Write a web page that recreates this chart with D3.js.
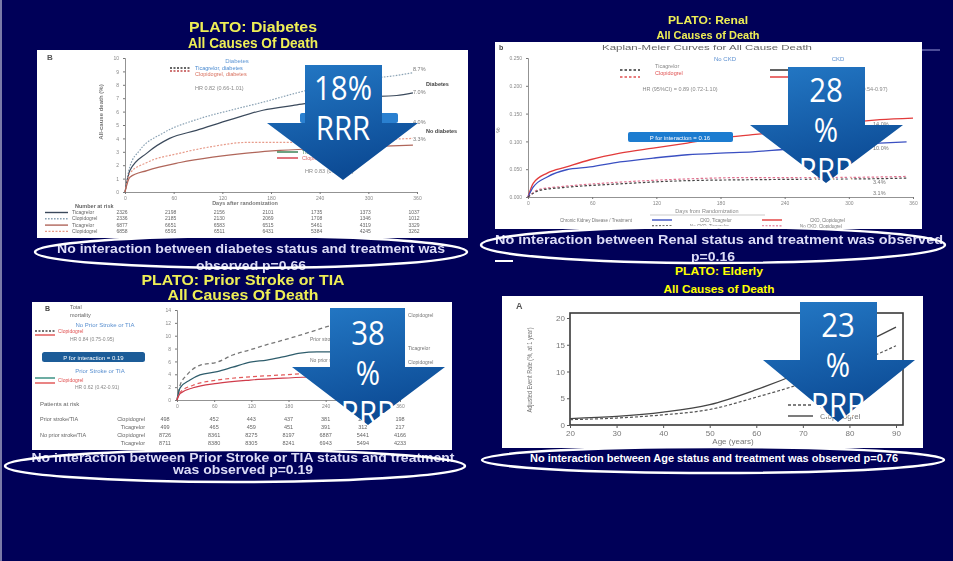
<!DOCTYPE html>
<html>
<head>
<meta charset="utf-8">
<script src="https://cdn.jsdelivr.net/npm/d3@7"></script>
<style>
    html, body { margin: 0; padding: 0; background: #000058; }
    svg { display: block; }
</style>
</head>
<body>
<svg id="slide" width="953" height="561"></svg>
<script>
// ---------- data ----------
const kmDays = [0, 60, 120, 180, 240, 300, 360];
const rrrValues = [18, 28, 38, 23];

// PLATO diabetes, all-cause death (%), [day, value]
const dmClopidogrel = [[0, 0], [6, 1.9], [18, 3.1], [47, 4.4], [88, 5.4], [130, 6.1], [170, 6.7], [212, 7.4], [253, 8.0], [293, 8.4], [335, 8.7], [355, 8.9]];
const dmTicagrelor = [[0, 0], [6, 1.6], [27, 2.9], [55, 4.0], [88, 4.6], [130, 5.4], [170, 6.1], [212, 6.5], [253, 6.9], [293, 7.1], [335, 7.2], [355, 7.4]];
const noDmClopidogrel = [[0, 0], [6, 1.4], [27, 2.2], [68, 2.9], [108, 3.4], [150, 3.7], [191, 3.7], [260, 3.8], [355, 4.0]];
const noDmTicagrelor = [[0, 0], [6, 1.1], [27, 1.6], [68, 2.2], [108, 2.6], [150, 2.9], [191, 3.1], [260, 3.3], [355, 3.5]];
const dmEndLabels = ["8.7%", "7.0%", "4.0%", "3.3%"];
const dmRiskRows = [
    ["Ticagrelor", [2326, 2198, 2156, 2101, 1735, 1373, 1037]],
    ["Clopidogrel", [2336, 2185, 2130, 2069, 1708, 1346, 1012]],
    ["Ticagrelor", [6877, 6651, 6583, 6515, 5461, 4319, 3329]],
    ["Clopidogrel", [6858, 6595, 6511, 6431, 5384, 4245, 3262]],
];

// PLATO renal, all-cause death (%)
const ckdClopidogrel = [[0, 0], [5, 2.5], [18, 4.3], [36, 5.4], [58, 6.7], [86, 7.9], [117, 8.8], [149, 9.7], [180, 10.6], [210, 11.2], [236, 11.7], [267, 12.4], [298, 13.3], [329, 13.9], [360, 14.2]];
const ckdTicagrelor = [[0, 0], [5, 1.8], [18, 3.6], [36, 4.9], [58, 5.4], [86, 6.3], [117, 7.0], [149, 7.6], [180, 7.9], [210, 8.1], [236, 8.5], [267, 9.0], [298, 9.4], [329, 9.7], [354, 9.9]];
const noCkdClopidogrel = [[0, 0], [11, 1.4], [33, 1.9], [80, 2.6], [142, 3.2], [205, 3.5], [267, 3.5], [329, 3.6], [354, 3.7]];
const noCkdTicagrelor = [[0, 0], [11, 1.2], [33, 1.7], [80, 2.3], [142, 2.9], [205, 3.1], [267, 3.2], [329, 3.3], [354, 3.4]];
const ckdEndLabels = ["14.0%", "10.0%", "3.4%", "3.1%"];

// PLATO prior stroke / TIA, total mortality (%)
const priorClopidogrel = [[0, 0], [5, 2.3], [16, 3.9], [37, 5.4], [65, 5.9], [90, 7.0], [118, 7.8], [145, 8.6], [171, 9.3], [199, 10.1], [226, 10.9], [242, 11.4], [290, 12.0], [360, 12.5]];
const priorTicagrelor = [[0, 0], [5, 1.9], [21, 3.1], [37, 3.9], [65, 4.4], [90, 5.1], [118, 5.9], [145, 6.2], [171, 6.7], [199, 7.3], [226, 7.5], [253, 7.5], [300, 7.6], [360, 7.8]];
const noPriorClopidogrel = [[0, 0], [5, 1.2], [26, 2.3], [65, 3.1], [118, 3.6], [171, 3.9], [226, 4.2], [300, 4.4], [360, 4.6]];
const noPriorTicagrelor = [[0, 0], [5, 1.0], [26, 1.9], [65, 2.6], [118, 3.1], [171, 3.4], [226, 3.6], [300, 3.8], [360, 4.0]];
const strokeRiskRows = [
    ["Prior stroke/TIA", "Clopidogrel", [498, 452, 443, 437, 381, 299, 198]],
    ["", "Ticagrelor", [499, 465, 459, 451, 391, 312, 217]],
    ["No prior stroke/TIA", "Clopidogrel", [8726, 8361, 8275, 8197, 6887, 5441, 4166]],
    ["", "Ticagrelor", [8711, 8380, 8305, 8241, 6943, 5494, 4233]],
];

// PLATO elderly, adjusted event rate (%, at 1 year) by age
const ages = [20, 30, 40, 50, 60, 70, 80, 90];
const clopidogrelRate = [1.2, 1.6, 2.4, 3.8, 6.6, 10.0, 14.0, 18.3];
const ticagrelorRate = [1.0, 1.3, 1.9, 2.9, 5.2, 7.8, 11.0, 14.8];

// ---------- helpers ----------
const svg = d3.select("#slide");
const defs = svg.append("defs");

const grad = defs.append("linearGradient").attr("id", "arrowFill")
    .attr("x1", 0).attr("y1", 0).attr("x2", 0.3).attr("y2", 1);
grad.append("stop").attr("offset", "0%").attr("stop-color", "#2479c6");
grad.append("stop").attr("offset", "100%").attr("stop-color", "#0c4b95");

defs.append("filter").attr("id", "soft").append("feGaussianBlur").attr("stdDeviation", 0.55);
defs.append("filter").attr("id", "softer").append("feGaussianBlur").attr("stdDeviation", 0.3);

const SANS = "'Liberation Sans', Arial, sans-serif";

function addText(g, t, x, y, opt = {}) {
    const el = g.append("text")
        .attr("x", x).attr("y", y).text(t)
        .attr("font-family", opt.family || SANS)
        .attr("font-size", opt.size || 5.5)
        .attr("font-weight", opt.weight || "normal")
        .attr("fill", opt.fill || "#888")
        .attr("text-anchor", opt.anchor || "start");
    if (opt.len) el.attr("textLength", opt.len).attr("lengthAdjust", "spacingAndGlyphs");
    if (opt.rotate) el.attr("transform", `rotate(${opt.rotate},${x},${y})`);
    return el;
}

function styleAxis(sel) {
    sel.select(".domain").attr("stroke", "#777").attr("stroke-width", 0.8);
    sel.selectAll(".tick line").attr("stroke", "#777");
    sel.selectAll(".tick text").attr("fill", "#888").attr("font-size", 5).attr("font-family", SANS);
}

function sample(g, x0, x1, y, s) {
    g.append("line").attr("x1", x0).attr("x2", x1).attr("y1", y).attr("y2", y)
        .attr("stroke", s.color).attr("stroke-width", 1.4)
        .attr("stroke-dasharray", s.dash || null);
}

function kmChart(g, o) {
    const x = d3.scaleLinear().domain([0, 360]).range([o.x0, o.x1]);
    const y = d3.scaleLinear().domain([0, o.yMax]).range([o.y0, o.y1]);

    g.append("g").attr("transform", `translate(0,${o.y0})`)
        .call(d3.axisBottom(x).tickValues(kmDays).tickSize(2).tickPadding(2))
        .call(styleAxis);
    g.append("g").attr("transform", `translate(${o.x0},0)`)
        .call(d3.axisLeft(y).tickValues(o.yTicks).tickSize(2).tickPadding(4).tickFormat(o.yFmt || d3.format("d")))
        .call(styleAxis);

    const line = d3.line().x(d => x(d[0])).y(d => y(d[1])).curve(d3.curveMonotoneX);
    o.series.forEach(s => {
        g.append("path").datum(s.data)
            .attr("d", line)
            .attr("fill", "none")
            .attr("stroke", s.color)
            .attr("stroke-width", s.width || 1.2)
            .attr("stroke-dasharray", s.dash || null);
    });
    return { x, y };
}

function titles(g, lines, cx, opt) {
    lines.forEach(l => {
        addText(g, l.text, cx, l.y, {
            size: opt.size, weight: "bold", fill: opt.fill, anchor: "middle", len: l.len,
        });
    });
}

function ovalNote(g, e, lines, opt) {
    lines.forEach(l => addText(g, l.text, l.cx || e.cx, l.y, {
        size: opt.size, weight: "bold", fill: opt.fill, anchor: "middle", len: l.len,
    }));
}

function drawOval(e) {
    svg.append("ellipse")
        .attr("cx", e.cx).attr("cy", e.cy).attr("rx", e.rx).attr("ry", e.ry)
        .attr("fill", "none").attr("stroke", "#ffffff").attr("stroke-width", 2.4);
}

function drawArrow(a, rrr) {
    const p = d3.path();
    p.moveTo(a.rx0, a.top);
    p.lineTo(a.rx1, a.top);
    p.lineTo(a.rx1, a.shoulder);
    p.lineTo(a.tx1, a.shoulder);
    p.lineTo(a.tipX, a.tip);
    p.lineTo(a.tx0, a.shoulder);
    p.lineTo(a.rx0, a.shoulder);
    p.closePath();
    svg.append("path").attr("d", p.toString()).attr("fill", "url(#arrowFill)");
    const lines = a.split ? [`${rrr}`, "%", "RRR"] : [`${rrr}%`, "RRR"];
    lines.forEach((t, i) => {
        const el = addText(svg, t, a.tipX, a.base + i * 40, {
            size: 32, fill: "#ffffff", anchor: "middle", family: "'Open Sans', 'Noto Sans', sans-serif",
        });
        // the slide font is a little narrower than Open Sans
        const w = el.node().getComputedTextLength();
        el.attr("textLength", w * 0.92).attr("lengthAdjust", "spacingAndGlyphs");
    });
}

// ---------- background ----------
svg.append("rect").attr("width", 953).attr("height", 561).attr("fill", "#000058");
svg.append("rect").attr("x", 0).attr("y", 0).attr("width", 2).attr("height", 561).attr("fill", "#7a7aa8");

// ---------- panel 1: diabetes ----------
const p1 = svg.append("g").attr("filter", "url(#soft)");
titles(p1, [
    { text: "PLATO: Diabetes", y: 32, len: 128 },
    { text: "All Causes Of Death", y: 48, len: 130 },
], 253, { size: 14, fill: "#eeee55" });
p1.append("rect").attr("x", 37).attr("y", 50).attr("width", 431).attr("height", 188).attr("fill", "#ffffff");
addText(p1, "B", 47, 60, { size: 8, weight: "bold", fill: "#555" });
addText(p1, "All-cause death (%)", 103, 112, { size: 6, weight: "bold", fill: "#777", anchor: "middle", rotate: -90 });

const dmSeries = [
    { data: dmClopidogrel, color: "#8aa2b4", dash: "1.6,1.4" },
    { data: dmTicagrelor, color: "#3b4a5c" },
    { data: noDmClopidogrel, color: "#e79b8a", dash: "2,1.5" },
    { data: noDmTicagrelor, color: "#b0665a" },
];
const dm = kmChart(p1, {
    x0: 125, x1: 417, y0: 192, y1: 58, yMax: 10,
    yTicks: d3.range(0, 11), series: dmSeries,
});
addText(p1, "Days after randomization", 245, 205, { size: 5.5, weight: "bold", fill: "#777", anchor: "middle" });

// legend
addText(p1, "Diabetes", 237, 63, { size: 6, fill: "#5e96d4", anchor: "middle" });
sample(p1, 170, 190, 68, { color: "#333", dash: "2,1.5" });
sample(p1, 170, 190, 71, { color: "#c04848", dash: "2,1.5" });
addText(p1, "Ticagrelor, diabetes", 195, 70, { size: 5.5, fill: "#4a8ad0" });
addText(p1, "Clopidogrel, diabetes", 195, 76, { size: 5.5, fill: "#d8705e" });
addText(p1, "HR 0.82 (0.66-1.01)", 195, 90, { size: 5.5, fill: "#888" });

// interaction box and no-diabetes legend
p1.append("rect").attr("x", 300).attr("y", 113).attr("width", 98).attr("height", 10).attr("rx", 2).attr("fill", "#2a80d0");
addText(p1, "P for interaction = 0.66", 349, 120.5, { size: 6, fill: "#fff", anchor: "middle" });
sample(p1, 277, 298, 152, { color: "#2e7a4c" });
sample(p1, 277, 298, 158, { color: "#d23a46" });
addText(p1, "Ticagrelor, no diabetes", 302, 154, { size: 5.5, fill: "#4a8a5a" });
addText(p1, "Clopidogrel, no diabetes", 302, 160, { size: 5.5, fill: "#d86a6a" });
addText(p1, "HR 0.83 (0.69-1.00)", 305, 173, { size: 5.5, fill: "#888" });

// end-of-curve labels
const dmLabelDy = [-2, 1, -14, -4];
dmSeries.forEach((s, i) => {
    const last = s.data[s.data.length - 1];
    addText(p1, dmEndLabels[i], dm.x(360) - 4, dm.y(last[1]) + dmLabelDy[i], { size: 5.5, fill: "#777" });
});
addText(p1, "Diabetes", 426, 86, { size: 5.5, weight: "bold", fill: "#444" });
addText(p1, "No diabetes", 426, 133, { size: 5.5, weight: "bold", fill: "#444" });

// number at risk
addText(p1, "Number at risk", 75, 208, { size: 5.5, weight: "bold", fill: "#666" });
dmRiskRows.forEach((r, i) => {
    const yy = 214 + i * 6.3;
    sample(p1, 45, 68, yy - 1.5, dmSeries[[1, 0, 3, 2][i]]);
    addText(p1, r[0], 72, yy, { size: 5, fill: "#666" });
    r[1].forEach((n, j) => addText(p1, n, dm.x(kmDays[j]) - 3, yy, { size: 5, fill: "#666", anchor: "middle" }));
});

ovalNote(p1, { cx: 251 }, [
    { text: "No interaction between diabetes status and treatment was", y: 253, len: 388 },
    { text: "observed p=0.66", y: 270, len: 110 },
], { size: 13, fill: "#dcdcf6" });

// ---------- panel 2: renal ----------
const p2 = svg.append("g").attr("filter", "url(#soft)");
titles(p2, [
    { text: "PLATO: Renal", y: 24, len: 80 },
    { text: "All Causes of Death", y: 39, len: 103 },
], 708, { size: 11, fill: "#eeee55" });
p2.append("rect").attr("x", 495).attr("y", 42).attr("width", 427).attr("height", 187).attr("fill", "#ffffff");
p2.append("line").attr("x1", 922).attr("x2", 940).attr("y1", 50).attr("y2", 50).attr("stroke", "#9a9ad8").attr("stroke-width", 1);
addText(p2, "b", 499, 50, { size: 7, weight: "bold", fill: "#444" });
addText(p2, "Kaplan-Meier Curves for All Cause Death", 707, 50, { size: 6.5, fill: "#666", anchor: "middle", len: 210 });
addText(p2, "%", 500, 130, { size: 6, fill: "#777", anchor: "middle", rotate: -90 });

const ckdSeries = [
    { data: ckdClopidogrel, color: "#e23a3a", width: 1.3 },
    { data: ckdTicagrelor, color: "#3a50c2", width: 1.3 },
    { data: noCkdClopidogrel, color: "#e0708e", dash: "2.5,2" },
    { data: noCkdTicagrelor, color: "#444", dash: "2.5,2" },
];
const ckd = kmChart(p2, {
    x0: 528, x1: 913, y0: 197, y1: 58, yMax: 25,
    yTicks: [0, 5, 10, 15, 20, 25], yFmt: d => (d / 100).toFixed(3), series: ckdSeries,
});
addText(p2, "Days from Randomization", 707, 213, { size: 5.5, fill: "#888", anchor: "middle" });
p2.append("line").attr("x1", 650).attr("x2", 765).attr("y1", 215).attr("y2", 215).attr("stroke", "#aaa").attr("stroke-width", 0.6);

addText(p2, "No CKD", 725, 61, { size: 6, fill: "#5b8fd0", anchor: "middle" });
addText(p2, "CKD", 838, 61, { size: 6, fill: "#5b8fd0", anchor: "middle" });
sample(p2, 620, 640, 70, { color: "#333", dash: "2.5,2" });
sample(p2, 620, 640, 77, { color: "#e05050", dash: "2.5,2" });
addText(p2, "Ticagrelor", 655, 68, { size: 5.5, fill: "#888" });
addText(p2, "Clopidogrel", 655, 75, { size: 5.5, fill: "#e05050" });
addText(p2, "HR (95%CI) = 0.89 (0.72-1.10)", 680, 91, { size: 5.5, fill: "#888", anchor: "middle" });
sample(p2, 770, 800, 70, { color: "#222" });
sample(p2, 770, 800, 77, { color: "#e03030" });
addText(p2, "HR (95%CI) = 0.72 (0.54-0.97)", 850, 91, { size: 5.5, fill: "#888", anchor: "middle" });

p2.append("rect").attr("x", 628).attr("y", 132).attr("width", 105).attr("height", 10).attr("rx", 2).attr("fill", "#1f7bd0");
addText(p2, "P for interaction = 0.16", 680, 139.5, { size: 6, fill: "#fff", anchor: "middle" });

ckdSeries.forEach((s, i) => {
    const last = s.data[s.data.length - 1];
    addText(p2, ckdEndLabels[i], 873, i < 3 ? ckd.y(last[1]) + 8 : ckd.y(0) - 2, { size: 5.5, fill: "#777" });
});

// bottom legend row
addText(p2, "Chronic Kidney Disease / Treatment", 560, 222, { size: 4.5, fill: "#777" });
sample(p2, 652, 672, 220, { color: "#3a50c2" });
addText(p2, "CKD, Ticagrelor", 700, 222, { size: 4.5, fill: "#777" });
sample(p2, 762, 782, 220, { color: "#e23a3a" });
addText(p2, "CKD, Clopidogrel", 810, 222, { size: 4.5, fill: "#777" });
sample(p2, 652, 672, 226, { color: "#444", dash: "2,1.5" });
addText(p2, "No CKD, Ticagrelor", 690, 228, { size: 4.5, fill: "#777" });
sample(p2, 762, 782, 226, { color: "#e0708e", dash: "2,1.5" });
addText(p2, "No CKD, Clopidogrel", 800, 228, { size: 4.5, fill: "#777" });

ovalNote(p2, { cx: 719 }, [
    { text: "No interaction between Renal status and treatment was observed", y: 244, len: 448 },
    { text: "p=0.16", cx: 713, y: 261, len: 44 },
], { size: 13, fill: "#dcdcf6" });
svg.append("line").attr("x1", 495).attr("x2", 513).attr("y1", 261).attr("y2", 261).attr("stroke", "#fff").attr("stroke-width", 2);

// ---------- panel 3: prior stroke / TIA ----------
const p3 = svg.append("g").attr("filter", "url(#soft)");
titles(p3, [
    { text: "PLATO: Prior Stroke or TIA", y: 285, len: 203 },
    { text: "All Causes Of Death", y: 300, len: 151 },
], 243, { size: 15, fill: "#eeee55" });
p3.append("rect").attr("x", 32).attr("y", 302).attr("width", 420).attr("height", 148).attr("fill", "#ffffff");
addText(p3, "B", 45, 311, { size: 7, weight: "bold", fill: "#444" });
addText(p3, "Total", 70, 309, { size: 5.5, fill: "#666" });
addText(p3, "mortality", 70, 317, { size: 5.5, fill: "#666" });

const strokeSeries = [
    { data: priorClopidogrel, color: "#777", dash: "4,3", width: 1.3 },
    { data: priorTicagrelor, color: "#2f5d6c", width: 1.3 },
    { data: noPriorClopidogrel, color: "#e25a5a", dash: "4,3" },
    { data: noPriorTicagrelor, color: "#d03c4c" },
];
const st = kmChart(p3, {
    x0: 177, x1: 400, y0: 400, y1: 310, yMax: 14,
    yTicks: d3.range(0, 15, 2), series: strokeSeries,
});

addText(p3, "No Prior Stroke or TIA", 105, 327, { size: 6, fill: "#5a90d0", anchor: "middle" });
sample(p3, 35, 55, 331, { color: "#444", dash: "2,1.5" });
sample(p3, 35, 55, 335, { color: "#e05050" });
addText(p3, "Clopidogrel", 58, 333, { size: 5, fill: "#e05050" });
addText(p3, "HR 0.84 (0.75-0.95)", 70, 341, { size: 5, fill: "#888" });
p3.append("rect").attr("x", 42).attr("y", 352).attr("width", 103).attr("height", 10).attr("rx", 2.5).attr("fill", "#1b5c98");
addText(p3, "P for interaction = 0.19", 93.5, 359.5, { size: 6, fill: "#fff", anchor: "middle" });
addText(p3, "Prior Stroke or TIA", 100, 373, { size: 6, fill: "#5a90d0", anchor: "middle" });
sample(p3, 35, 55, 378, { color: "#2f8a7c" });
sample(p3, 35, 55, 383, { color: "#e05050" });
addText(p3, "Clopidogrel", 58, 382, { size: 5, fill: "#e05050" });
addText(p3, "HR 0.62 (0.42-0.91)", 75, 389, { size: 5, fill: "#888" });

addText(p3, "Clopidogrel", 408, 317, { size: 5, fill: "#777" });
addText(p3, "Prior stroke", 310, 341, { size: 5, fill: "#777" });
addText(p3, "Ticagrelor", 408, 350, { size: 5, fill: "#777" });
addText(p3, "No prior stroke", 310, 362, { size: 5, fill: "#777" });
addText(p3, "Clopidogrel", 408, 364, { size: 5, fill: "#777" });

addText(p3, "Patients at risk", 40, 406, { size: 6, fill: "#666" });
strokeRiskRows.forEach((r, i) => {
    const yy = 421 + i * 8;
    if (r[0]) addText(p3, r[0], 40, yy, { size: 5.5, fill: "#666" });
    addText(p3, r[1], 145, yy, { size: 5.5, fill: "#666", anchor: "end" });
    r[2].forEach((n, j) => addText(p3, n, st.x(kmDays[j]) - (j === 0 ? 12 : 0), yy, { size: 5.5, fill: "#666", anchor: "middle" }));
});

ovalNote(p3, { cx: 243 }, [
    { text: "No interaction between Prior Stroke or TIA status and treatment", y: 462, len: 423 },
    { text: "was observed p=0.19", y: 474, len: 140 },
], { size: 12, fill: "#dcdcf6" });

// ---------- panel 4: elderly ----------
const p4t = svg.append("g");
titles(p4t, [
    { text: "PLATO: Elderly", y: 275, len: 88 },
    { text: "All Causes of Death", y: 293, len: 111 },
], 719, { size: 11, fill: "#ffff00" });

const p4 = svg.append("g").attr("filter", "url(#softer)");
p4.append("rect").attr("x", 502).attr("y", 296).attr("width", 421).attr("height", 152).attr("fill", "#ffffff");
addText(p4, "A", 516, 309, { size: 9, weight: "bold", fill: "#555" });

const ex = d3.scaleLinear().domain([20, 90]).range([570, 896]);
const ey = d3.scaleLinear().domain([0, 20]).range([425, 318]);
p4.append("rect").attr("x", 570).attr("y", 313).attr("width", 333).attr("height", 112)
    .attr("fill", "none").attr("stroke", "#3a3a3a").attr("stroke-width", 1.6);
p4.append("g").attr("transform", "translate(0,425)")
    .call(d3.axisBottom(ex).tickValues(ages).tickSize(3).tickPadding(2))
    .call(sel => {
        sel.select(".domain").remove();
        sel.selectAll(".tick line").attr("stroke", "#555");
        sel.selectAll(".tick text").attr("fill", "#777").attr("font-size", 8).attr("font-family", SANS);
    });
p4.append("g").attr("transform", "translate(570,0)")
    .call(d3.axisLeft(ey).tickValues([0, 5, 10, 15, 20]).tickSize(3).tickPadding(2))
    .call(sel => {
        sel.select(".domain").remove();
        sel.selectAll(".tick line").attr("stroke", "#555");
        sel.selectAll(".tick text").attr("fill", "#777").attr("font-size", 8).attr("font-family", SANS);
    });
addText(p4, "Adjusted Event Rate (%, at 1 year)", 532, 370, { size: 7, fill: "#777", anchor: "middle", rotate: -90, len: 85 });
addText(p4, "Age (years)", 733, 444, { size: 8, fill: "#777", anchor: "middle" });

const ageLine = d3.line().x((d, i) => ex(ages[i])).y(d => ey(d)).curve(d3.curveMonotoneX);
p4.append("path").datum(clopidogrelRate).attr("d", ageLine)
    .attr("fill", "none").attr("stroke", "#444").attr("stroke-width", 1.3);
p4.append("path").datum(ticagrelorRate).attr("d", ageLine)
    .attr("fill", "none").attr("stroke", "#555").attr("stroke-width", 1.2).attr("stroke-dasharray", "3,2");

sample(p4, 788, 813, 405, { color: "#555", dash: "3,2" });
sample(p4, 788, 813, 416, { color: "#444" });
addText(p4, "Ticagrelor", 820, 408, { size: 8, fill: "#777" });
addText(p4, "Clopidogrel", 820, 419, { size: 8, fill: "#777" });

ovalNote(svg, { cx: 714 }, [
    { text: "No interaction between Age status and treatment was observed p=0.76", y: 462, len: 368 },
], { size: 10, fill: "#ffffff" });

// ---------- ovals ----------
drawOval({ cx: 251, cy: 252, rx: 216, ry: 16 });
drawOval({ cx: 713, cy: 245, rx: 232, ry: 18 });
drawOval({ cx: 235, cy: 466, rx: 230, ry: 16 });
drawOval({ cx: 713, cy: 460, rx: 231, ry: 13 });

// ---------- RRR arrows ----------
const arrows = [
    { rx0: 305, rx1: 382, top: 65, shoulder: 123, tx0: 267, tx1: 418, tipX: 343, tip: 180, base: 100 },
    { rx0: 788, rx1: 865, top: 67, shoulder: 125, tx0: 750, tx1: 903, tipX: 826, tip: 183, base: 102, split: true },
    { rx0: 330, rx1: 405, top: 308, shoulder: 367, tx0: 292, tx1: 445, tipX: 368, tip: 425, base: 345, split: true },
    { rx0: 800, rx1: 877, top: 302, shoulder: 360, tx0: 763, tx1: 915, tipX: 838, tip: 422, base: 337, split: true },
];
arrows.forEach((a, i) => drawArrow(a, rrrValues[i]));
</script>
</body>
</html>
